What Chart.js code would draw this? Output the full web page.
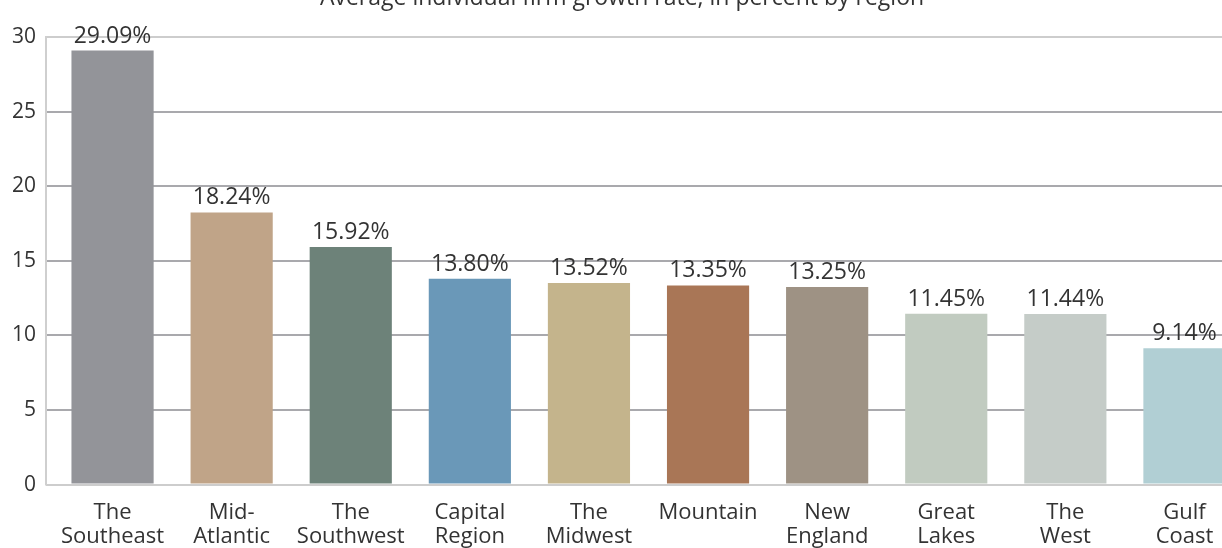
<!DOCTYPE html>
<html>
<head>
<meta charset="utf-8">
<script src="https://cdn.jsdelivr.net/npm/chart.js@4.4.1/dist/chart.umd.min.js"></script>
<style>
    html, body { margin: 0; padding: 0; background: #fff; overflow: hidden; }
    #wrap { position: absolute; left: 0; top: -15px; width: 1244px; height: 580px; }
</style>
</head>
<body>
<div id="wrap"><canvas id="growthChart"></canvas></div>
<script>
// regions, in the order shown
const regions = [
    ["The", "Southeast"], ["Mid-", "Atlantic"], ["The", "Southwest"], ["Capital", "Region"],
    ["The", "Midwest"], ["Mountain"], ["New", "England"], ["Great", "Lakes"],
    ["The", "West"], ["Gulf", "Coast"]
];

// average firm growth rate, percent
const growthRates = [29.09, 18.24, 15.92, 13.80, 13.52, 13.35, 13.25, 11.45, 11.44, 9.14];

const barColors = [
    "#939499", "#c0a488", "#6d8279", "#6a98b8", "#c4b48c",
    "#a97656", "#9e9284", "#c1cbc0", "#c5ccc8", "#b1cfd4"
];

const yTicks = [0, 5, 10, 15, 20, 25, 30];

const chartTitle = "Average individual firm growth rate, in percent by region";

const FONT = "'Open Sans', 'Noto Sans', sans-serif";

// value labels over each bar
const valueLabels = {
    id: "valueLabels",
    afterDatasetsDraw(chart) {
        const ctx = chart.ctx;
        const meta = chart.getDatasetMeta(0);
        ctx.save();
        ctx.font = "23px " + FONT;
        ctx.fillStyle = "#333";
        ctx.textAlign = "center";
        ctx.textBaseline = "alphabetic";
        meta.data.forEach((bar, i) => {
            ctx.fillText(growthRates[i].toFixed(2) + "%", bar.x, bar.y - 8);
        });
        ctx.restore();
    }
};

// left axis line sits a little left of the first bar slot
const leftAxisLine = {
    id: "leftAxisLine",
    beforeDatasetsDraw(chart) {
        const { ctx, chartArea } = chart;
        const x = chartArea.left - 7;
        ctx.save();
        ctx.strokeStyle = "#cfcfcf";
        ctx.lineWidth = 2;
        ctx.beginPath();
        ctx.moveTo(x, chartArea.top - 1);
        ctx.lineTo(x, chartArea.bottom + 1);
        ctx.stroke();
        ctx.restore();
    }
};

new Chart(document.getElementById("growthChart"), {
    type: "bar",
    data: {
        labels: regions,
        datasets: [{
            data: growthRates,
            backgroundColor: barColors,
            borderWidth: 0,
            categoryPercentage: 1,
            barPercentage: 0.69
        }]
    },
    options: {
        responsive: true,
        maintainAspectRatio: false,
        animation: false,
        layout: { padding: { left: 0, right: 0, top: 0, bottom: 0 } },
        plugins: {
            legend: { display: false },
            tooltip: { enabled: false },
            title: {
                display: true,
                text: chartTitle,
                color: "#333",
                font: { family: FONT, size: 23, weight: "normal" },
                padding: { top: 0, bottom: 24.4 }
            }
        },
        scales: {
            x: {
                grid: { display: false, drawTicks: false },
                border: { display: false },
                ticks: {
                    color: "#333",
                    font: { family: FONT, size: 22, lineHeight: 1.1 },
                    padding: 16,
                    maxRotation: 0,
                    autoSkip: false
                }
            },
            y: {
                min: 0,
                max: 30,
                afterFit(scale) { scale.width = 53; },
                afterBuildTicks(scale) { scale.ticks = yTicks.map(v => ({ value: v })); },
                border: { display: false },
                grid: {
                    lineWidth: 2,
                    tickLength: 7,
                    color: c => (c.tick.value === 0 || c.tick.value === 30) ? "#cdcdcd" : "#a9a9ad"
                },
                ticks: {
                    color: "#333",
                    font: { family: FONT, size: 21 },
                    padding: 10
                }
            }
        }
    },
    plugins: [valueLabels, leftAxisLine]
});
</script>
</body>
</html>
